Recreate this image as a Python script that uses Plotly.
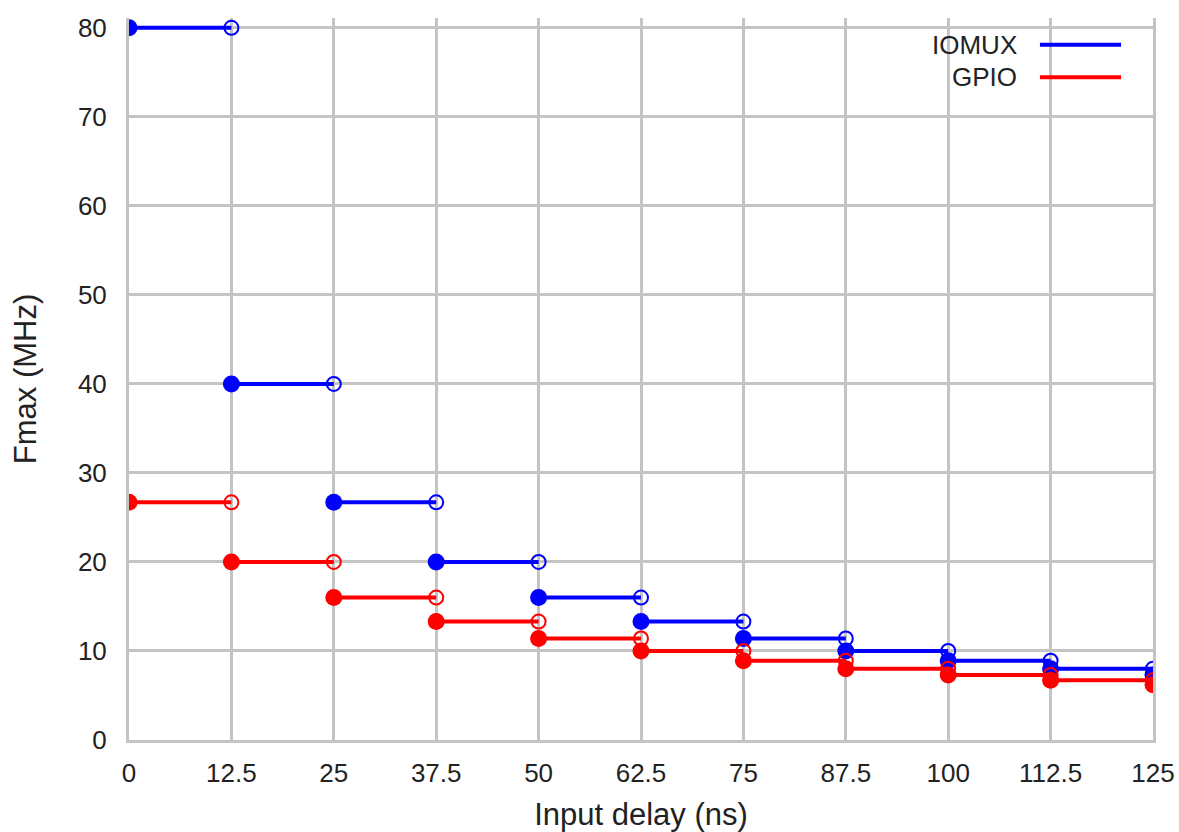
import plotly.graph_objects as go

# step start positions (ns) and the Fmax held over each 12.5 ns step
delay_ns = [0, 12.5, 25, 37.5, 50, 62.5, 75, 87.5, 100, 112.5, 125]
step_ns = 12.5
iomux_mhz = [80, 40, 26.7, 20, 16, 13.3, 11.4, 10, 8.9, 8, 7.3]
gpio_mhz = [26.7, 20, 16, 13.3, 11.4, 10, 8.9, 8, 7.3, 6.7, 6.2]

x_ticks = [0, 12.5, 25, 37.5, 50, 62.5, 75, 87.5, 100, 112.5, 125]
x_ticktext = ["0", "12.5", "25", "37.5", "50", "62.5", "75", "87.5", "100", "112.5", "125"]
y_ticks = [0, 10, 20, 30, 40, 50, 60, 70, 80]

series = [("IOMUX", iomux_mhz, "#0000ff"), ("GPIO", gpio_mhz, "#ff0000")]

FONT = "Liberation Sans, Arial, sans-serif"
GRID = "#c4c4c4"

fig = go.Figure()

for name, vals, color in series:
    seg_x, seg_y = [], []
    ends = [d + step_ns for d in delay_ns]
    for x0, x1, v in zip(delay_ns, ends, vals):
        seg_x += [x0, x1, None]
        seg_y += [v, v, None]
    fig.add_trace(go.Scatter(
        x=seg_x, y=seg_y, mode="lines", name=name,
        line=dict(color=color, width=4), showlegend=False,
    ))
    # open circle at the (excluded) end of each step
    fig.add_trace(go.Scatter(
        x=ends, y=vals, mode="markers", showlegend=False,
        marker=dict(symbol="circle-open", size=14, color=color,
                    line=dict(width=2, color=color)),
    ))
    # filled dot at the start of each step
    fig.add_trace(go.Scatter(
        x=delay_ns, y=vals, mode="markers", showlegend=False,
        marker=dict(symbol="circle", size=17, color=color),
    ))

# legend drawn gnuplot-style: label on the left, line sample on the right
legend_y = [0.963, 0.918]
for (name, vals, color), ly in zip(series, legend_y):
    fig.add_annotation(
        x=0.869, y=ly, xref="paper", yref="paper", text=name,
        showarrow=False, xanchor="right", yanchor="middle",
        font=dict(family=FONT, size=26, color="#222222"),
    )
    fig.add_shape(
        type="line", xref="paper", yref="paper",
        x0=0.8896, x1=0.9688, y0=ly, y1=ly,
        line=dict(color=color, width=4),
    )

fig.update_layout(
    width=1179, height=832,
    margin=dict(l=129, r=26, t=18, b=92),
    paper_bgcolor="white", plot_bgcolor="white",
    font=dict(family=FONT, size=26, color="#222222"),
    showlegend=False,
)
fig.update_xaxes(
    range=[0, 125], tickmode="array", tickvals=x_ticks, ticktext=x_ticktext,
    showgrid=True, gridcolor=GRID, gridwidth=3, zeroline=False,
    showline=True, linecolor=GRID, linewidth=3,
    ticks="", ticklabelstandoff=8, ticklabeloverflow="allow",
    title=dict(text="Input delay (ns)", standoff=36),
    automargin=False,
)
fig.update_yaxes(
    range=[0, 81.1], tickmode="array", tickvals=y_ticks,
    showgrid=True, gridcolor=GRID, gridwidth=3, zeroline=False,
    showline=True, linecolor=GRID, linewidth=3, mirror=True,
    ticks="", ticklabelstandoff=14,
    title=dict(text="Fmax (MHz)", standoff=33),
    automargin=False,
)

# drop the default 8px body margin so the figure fills the window exactly
fig.write_html(
    "out.html",
    config={"displayModeBar": False},
    post_script="document.body.style.margin = '0';",
)
